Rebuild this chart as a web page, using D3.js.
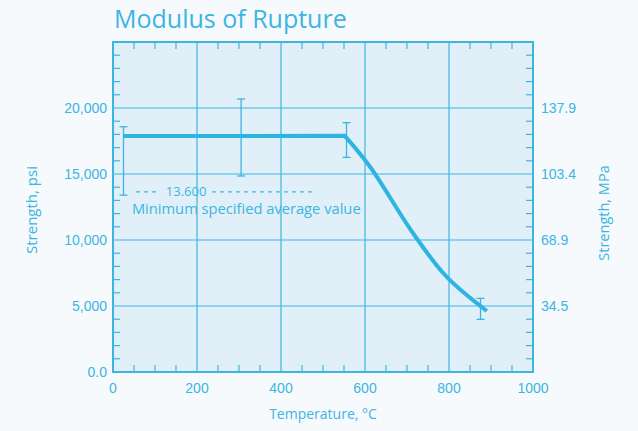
<!DOCTYPE html>
<html>
<head>
<meta charset="utf-8">
<script src="https://cdn.jsdelivr.net/npm/d3@7"></script>
<style>
  body { margin: 0; background: #f6fafd; }
  svg { display: block; }
</style>
</head>
<body>
<div id="chart"></div>
<script>
// curve: temperature (C) vs strength (psi)
let flatTemp = [25, 552]
let flatPsi = [17880, 17890]
let fallTemp = [552, 612, 714, 794, 890]
let fallPsi = [17890, 15550, 10530, 7220, 4620]

// error bars
let errTemp = [25, 305, 556, 875]
let errHigh = [18580, 20680, 18890, 5580]
let errLow = [13400, 14850, 16260, 3990]

let psiTicks = [0, 5000, 10000, 15000, 20000]
let psiLabels = ["0.0", "5,000", "10,000", "15,000", "20,000"]
let mpaLabels = ["", "34.5", "68.9", "103.4", "137.9"]
let tempTicks = [0, 200, 400, 600, 800, 1000]

let minValue = 13650

const blue = "#3bb5e2"
const lineBlue = "#2db4e1"
const sans = "'Open Sans', sans-serif"

let width = 638, height = 431
let margin = {top: 42, right: 105, bottom: 59, left: 113}
let w = width - margin.left - margin.right
let h = height - margin.top - margin.bottom

let svg = d3.select('#chart').append('svg')
    .attr('width', width).attr('height', height)

let g = svg.append('g')
    .attr('transform', "translate(" + margin.left + "," + margin.top + ")")

let x = d3.scaleLinear().domain([0, 1000]).range([0, w])
let y = d3.scaleLinear().domain([0, 25000]).range([h, 0])

svg.append('text')
    .attr('x', 114).attr('y', 28)
    .attr('font-family', sans)
    .attr('font-size', 25)
    .attr('fill', blue)
    .text('Modulus of Rupture')

g.append('rect')
    .attr('width', w).attr('height', h)
    .attr('fill', '#e1f0f8')

// grid
g.selectAll('.vgrid').data([200, 400, 600, 800]).enter().append('line')
    .attr('x1', d => x(d)).attr('x2', d => x(d))
    .attr('y1', 0).attr('y2', h)
    .attr('stroke', blue).attr('stroke-width', 1.2)
g.selectAll('.hgrid').data([5000, 10000, 15000, 20000]).enter().append('line')
    .attr('y1', d => y(d)).attr('y2', d => y(d))
    .attr('x1', 0).attr('x2', w)
    .attr('stroke', blue).attr('stroke-width', 1.2)

// minor ticks, inside on all four sides
let minorX = d3.range(50, 1000, 50).filter(d => d % 200 != 0)
let minorY = d3.range(1000, 25000, 1000).filter(d => d % 5000 != 0)
let tk = 7
g.selectAll('.mxb').data(minorX).enter().append('line')
    .attr('x1', d => x(d)).attr('x2', d => x(d)).attr('y1', h).attr('y2', h - tk)
    .attr('stroke', blue).attr('stroke-width', 1.2)
g.selectAll('.mxt').data(minorX).enter().append('line')
    .attr('x1', d => x(d)).attr('x2', d => x(d)).attr('y1', 0).attr('y2', tk)
    .attr('stroke', blue).attr('stroke-width', 1.2)
g.selectAll('.myl').data(minorY).enter().append('line')
    .attr('y1', d => y(d)).attr('y2', d => y(d)).attr('x1', 0).attr('x2', tk)
    .attr('stroke', blue).attr('stroke-width', 1.2)
g.selectAll('.myr').data(minorY).enter().append('line')
    .attr('y1', d => y(d)).attr('y2', d => y(d)).attr('x1', w).attr('x2', w - tk)
    .attr('stroke', blue).attr('stroke-width', 1.2)

g.append('rect')
    .attr('width', w).attr('height', h)
    .attr('fill', 'none').attr('stroke', blue).attr('stroke-width', 2)

// tick labels
g.selectAll('.ylab').data(psiTicks).enter().append('text')
    .attr('x', -6).attr('y', d => y(d) + 5)
    .attr('text-anchor', 'end')
    .attr('font-family', 'Liberation Sans, Arial, sans-serif')
    .attr('font-size', 14).attr('fill', blue)
    .text((d, i) => psiLabels[i])
g.selectAll('.rlab').data(psiTicks).enter().append('text')
    .attr('x', w + 8).attr('y', d => y(d) + 5)
    .attr('font-family', 'Liberation Sans, Arial, sans-serif')
    .attr('font-size', 14).attr('fill', blue)
    .text((d, i) => mpaLabels[i])
g.selectAll('.xlab').data(tempTicks).enter().append('text')
    .attr('x', d => x(d)).attr('y', h + 21)
    .attr('text-anchor', 'middle')
    .attr('font-family', 'Liberation Sans, Arial, sans-serif')
    .attr('font-size', 14).attr('fill', blue)
    .text(d => d)

// axis titles
svg.append('text')
    .attr('x', 323).attr('y', 419)
    .attr('text-anchor', 'middle')
    .attr('font-family', sans)
    .attr('font-size', 14).attr('fill', blue)
    .text('Temperature, °C')
svg.append('text')
    .attr('transform', 'translate(37,210) rotate(-90)')
    .attr('text-anchor', 'middle')
    .attr('font-family', sans)
    .attr('font-size', 15).attr('fill', blue)
    .text('Strength, psi')
svg.append('text')
    .attr('transform', 'translate(609,213) rotate(-90)')
    .attr('text-anchor', 'middle')
    .attr('font-family', sans)
    .attr('font-size', 14.5).attr('fill', blue)
    .text('Strength, MPa')

// minimum specified average value
let my = y(minValue)
g.append('line')
    .attr('x1', x(55)).attr('x2', x(112)).attr('y1', my).attr('y2', my)
    .attr('stroke', blue).attr('stroke-width', 1.2).attr('stroke-dasharray', '4,4')
g.append('text')
    .attr('x', x(174)).attr('y', my + 4)
    .attr('text-anchor', 'middle')
    .attr('font-family', sans)
    .attr('font-size', 13).attr('fill', blue)
    .text('13.600')
g.append('line')
    .attr('x1', x(236)).attr('x2', x(474)).attr('y1', my).attr('y2', my)
    .attr('stroke', blue).attr('stroke-width', 1.2).attr('stroke-dasharray', '4,4')
g.append('text')
    .attr('x', x(45)).attr('y', my + 22.5)
    .attr('font-family', sans)
    .attr('font-size', 14.7).attr('fill', blue)
    .text('Minimum specified average value')

// error bars
let cap = 4
errTemp.forEach((t, i) => {
    let eb = g.append('g').attr('stroke', blue).attr('stroke-width', 1.3)
    eb.append('line').attr('x1', x(t)).attr('x2', x(t)).attr('y1', y(errHigh[i])).attr('y2', y(errLow[i]))
    eb.append('line').attr('x1', x(t) - cap).attr('x2', x(t) + cap).attr('y1', y(errHigh[i])).attr('y2', y(errHigh[i]))
    eb.append('line').attr('x1', x(t) - cap).attr('x2', x(t) + cap).attr('y1', y(errLow[i])).attr('y2', y(errLow[i]))
})

// curve
let flat = flatTemp.map((t, i) => [t, flatPsi[i]])
let fall = fallTemp.map((t, i) => [t, fallPsi[i]])
let line = d3.line().x(d => x(d[0])).y(d => y(d[1]))
let smooth = d3.line().x(d => x(d[0])).y(d => y(d[1])).curve(d3.curveCatmullRom)
g.append('path')
    .attr('d', line(flat) + smooth(fall).replace('M', 'L'))
    .attr('fill', 'none').attr('stroke', lineBlue).attr('stroke-width', 4)
    .attr('stroke-linejoin', 'round')
</script>
</body>
</html>
